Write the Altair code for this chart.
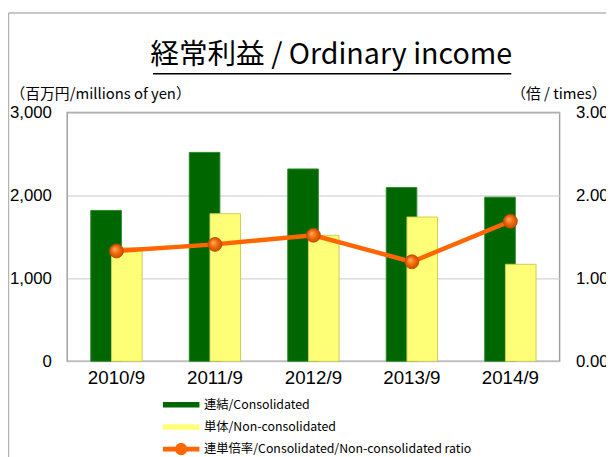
import altair as alt
import pandas as pd

years = ["2010/9", "2011/9", "2012/9", "2013/9", "2014/9"]
consolidated = [1820, 2520, 2320, 2095, 1980]
non_consolidated = [1370, 1780, 1520, 1740, 1170]
ratio = [1.33, 1.41, 1.52, 1.20, 1.69]

series_names = ["連結/Consolidated", "単体/Non-consolidated",
                "連単倍率/Consolidated/Non-consolidated ratio"]
series_colors = ["#006600", "#ffff77", "#ff6600"]
left_ticks = [0, 1000, 2000, 3000]
right_ticks = [0, 1, 2, 3]

df_c = pd.DataFrame({"year": years, "value": consolidated, "series": series_names[0]})
df_n = pd.DataFrame({"year": years, "value": non_consolidated, "series": series_names[1]})
df_r = pd.DataFrame({"year": years, "ratio": ratio, "series": series_names[2]})
deco = pd.DataFrame({"d": [0]})

LATIN = "'Liberation Sans', Arial, sans-serif"
MIXED = "'Liberation Sans Narrow', 'Noto Sans CJK JP', sans-serif"

bar_sym = "M-1.85,-0.28 L1.85,-0.28 L1.85,0.28 L-1.85,0.28 Z"
line_sym = ("M-1.85,-0.25 L1.85,-0.25 L1.85,0.25 L-1.85,0.25 Z "
            "M0.62,0 A0.62,0.62 0 1,1 -0.62,0 A0.62,0.62 0 1,1 0.62,0 Z")

color_scale = alt.Scale(domain=series_names, range=series_colors)
shape_scale = alt.Scale(domain=series_names, range=[bar_sym, bar_sym, line_sym])

leg = alt.Legend(orient="none", legendX=105.5, legendY=286, title=None,
                 symbolSize=400, symbolOpacity=1, symbolStrokeWidth=0,
                 labelFont=MIXED, labelFontSize=12.5, labelOffset=13,
                 rowPadding=5.5, padding=0, labelLimit=0, direction="vertical",
                 labelColor="black")

x_enc = alt.X("year:N", sort=years, title=None,
              scale=alt.Scale(paddingInner=0, paddingOuter=0),
              axis=alt.Axis(labelAngle=0, labelFont=LATIN, labelFontSize=19,
                            labelPadding=8, ticks=False, domain=False,
                            labelColor="black"))

left_axis = alt.Axis(values=left_ticks, format=",.0f", title="（百万円/millions of yen）",
                     titleAngle=0, titleAlign="left", titleBaseline="alphabetic",
                     titleX=-58, titleY=-14, titleFont=MIXED, titleFontSize=15,
                     titleFontWeight="normal", titleColor="black",
                     labelFont=LATIN, labelFontSize=17, labelPadding=16,
                     labelColor="black", ticks=False, domain=False,
                     grid=True, gridColor="#c8c8c8", gridWidth=1)
right_axis = alt.Axis(values=right_ticks, format=".2f", title="（倍 / times）",
                      orient="right",
                      titleAngle=0, titleAlign="right", titleBaseline="alphabetic",
                      titleX=47, titleY=-14, titleFont=MIXED, titleFontSize=15,
                      titleFontWeight="normal", titleColor="black",
                      labelFont=LATIN, labelFontSize=17, labelPadding=16,
                      labelColor="black", ticks=False, domain=False, grid=False)

y_left = alt.Y("value:Q", scale=alt.Scale(domain=[0, 3000], nice=False), axis=left_axis)
y_right = alt.Y("ratio:Q", scale=alt.Scale(domain=[0, 3], nice=False), axis=right_axis)

green = alt.Chart(df_c).mark_bar(width=31, xOffset=-10.5, stroke="#2a8a2a",
                                 strokeWidth=1).encode(
    x=x_enc, y=y_left,
    color=alt.Color("series:N", scale=color_scale, legend=leg))
yellow = alt.Chart(df_n).mark_bar(width=31, xOffset=10.5, stroke="#cccc55",
                                  strokeWidth=1).encode(
    x=x_enc, y=y_left,
    color=alt.Color("series:N", scale=color_scale, legend=leg))

frame_left = alt.Chart(deco).mark_rule(color="#b4b4b4", strokeWidth=1.5).encode(
    x=alt.value(-59.5), y=alt.value(-101), y2=alt.value(350))
frame_top = alt.Chart(deco).mark_rule(color="#b4b4b4", strokeWidth=1.5).encode(
    x=alt.value(-59.5), x2=alt.value(560), y=alt.value(-101))
underline = alt.Chart(deco).mark_rule(color="black", strokeWidth=1.5).encode(
    x=alt.value(87), x2=alt.value(450), y=alt.value(-39.3))

bars = alt.layer(frame_left, frame_top, underline, green, yellow)

line = alt.Chart(df_r).mark_line(color="#ff6600", strokeWidth=4.5).encode(
    x=x_enc, y=y_right)
points = alt.Chart(df_r).mark_point(
    shape="circle", filled=True, size=200, opacity=1,
    stroke="#c04a00", strokeWidth=0.8,
    fill=alt.Gradient(gradient="radial", x1=0.35, y1=0.35, r1=0,
                      x2=0.5, y2=0.5, r2=0.5,
                      stops=[alt.GradientStop(color="#ffb070", offset=0),
                             alt.GradientStop(color="#f36b0b", offset=0.55),
                             alt.GradientStop(color="#c84c00", offset=1)])
).encode(x=x_enc, y=y_right)
legend_layer = alt.Chart(df_r).mark_point(filled=True, opacity=0, size=10).encode(
    x=x_enc, y=y_right,
    color=alt.Color("series:N", scale=color_scale, legend=leg),
    shape=alt.Shape("series:N", scale=shape_scale, legend=leg))

ratio_layer = alt.layer(line, points, legend_layer)

chart = alt.layer(bars, ratio_layer).resolve_scale(y="independent").properties(
    width=499, height=252,
    autosize=alt.AutoSizeParams(type="none"),
    padding={"left": 60, "top": 103, "right": 47, "bottom": 94},
    title=alt.TitleParams(text="経常利益 / Ordinary income",
                          font="'Noto Sans CJK JP', sans-serif", fontSize=29,
                          fontWeight="normal", anchor="middle", frame="group",
                          dx=18, dy=81.5, offset=0, baseline="alphabetic",
                          color="black"),
).configure_view(stroke="#a0a0a0", strokeWidth=1.5)

chart.save("out.html", embed_options={"renderer": "svg", "actions": False})
